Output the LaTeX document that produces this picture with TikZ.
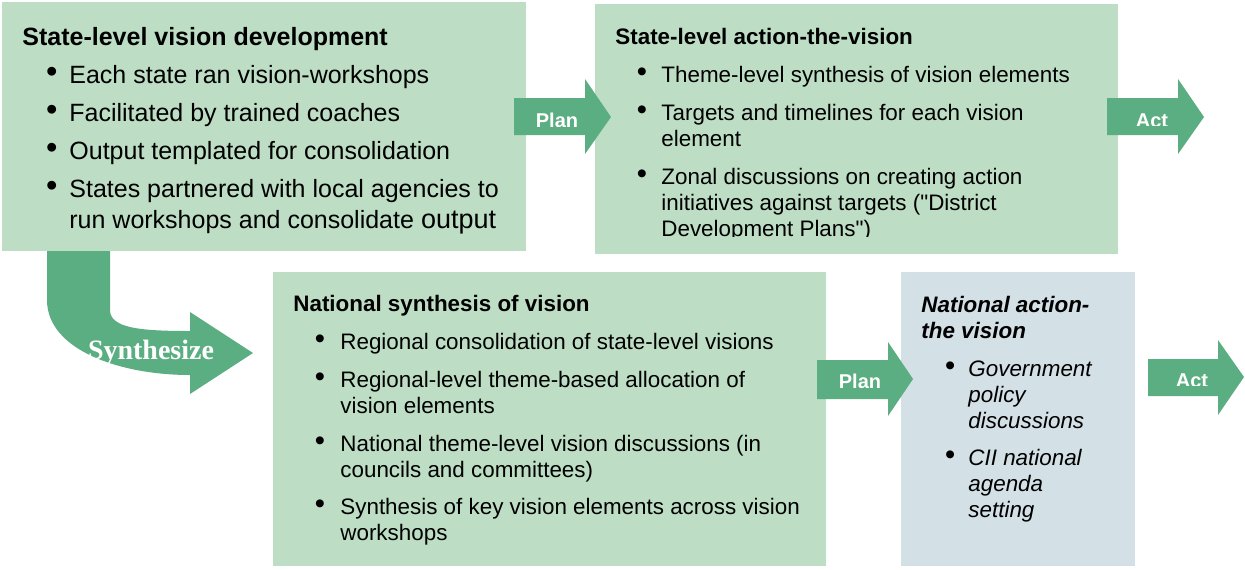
\documentclass[tikz,border=0pt]{standalone}
\usepackage{fontspec}
\setmainfont{Liberation Sans}
\newfontfamily\synfont{Liberation Serif}
\definecolor{boxgreen}{RGB}{189,222,197}
\definecolor{arrowgreen}{RGB}{91,174,130}
\definecolor{boxblue}{RGB}{211,224,230}
\newcommand{\bul}[1]{\llap{\raisebox{0.04em}{\scalebox{1.3}{\textbullet}}\hspace{#1}}}

\begin{document}
\begin{tikzpicture}[x=0.5pt, y=-0.5pt,
        greenbox/.style={fill=boxgreen, anchor=north west, inner sep=0},
        bluebox/.style={fill=boxblue, anchor=north west, inner sep=0},
        blockarrow/.style={fill=arrowgreen},
        arrowlabel/.style={text=white, anchor=base, inner sep=0, font=\fontsize{10}{12}\selectfont\bfseries},
        bigtext/.style={anchor=base west, inner sep=0, align=left, font=\fontsize{12.5}{15.5}\selectfont},
        smalltext/.style={anchor=base west, inner sep=0, align=left, font=\fontsize{11.2}{13}\selectfont},
        ]
        \useasboundingbox (0,0) rectangle (1245,569);

        % synthesize arrow, under the first box
        \fill[blockarrow] (47,250) -- (47,300) .. controls (47,350) and (120,375) .. (190,375)
            -- (190,394) -- (253,353) -- (190,312) -- (190,331)
            .. controls (140,331) and (110,328) .. (110,310) -- (110,250) -- cycle;
        \node[text=white, anchor=base, inner sep=0, font=\fontsize{14}{16}\synfont\bfseries] (synth) at (151,359) {Synthesize};

        % boxes
        \node[greenbox, minimum width=262pt, minimum height=124.5pt] (statevision) at (2,2) {};
        \node[greenbox, minimum width=261.5pt, minimum height=125pt] (stateaction) at (595,4) {};
        \node[greenbox, minimum width=276.5pt, minimum height=147pt] (natsynth) at (273,272) {};
        \node[bluebox, minimum width=117pt, minimum height=147pt] (nataction) at (901,272) {};

        % block arrows
        \fill[blockarrow] (514,98) -- (585,98) -- (585,79) -- (611,117) -- (585,154) -- (585,135) -- (514,135) -- cycle;
        \fill[blockarrow] (1107,98) -- (1178,98) -- (1178,79) -- (1204,117) -- (1178,154) -- (1178,135) -- (1107,135) -- cycle;
        \fill[blockarrow] (817,360) -- (888,360) -- (888,342) -- (913,379) -- (888,416) -- (888,399) -- (817,399) -- cycle;
        \fill[blockarrow] (1148,359) -- (1218,359) -- (1218,340) -- (1244,377) -- (1218,415) -- (1218,396) -- (1148,396) -- cycle;
        \begin{scope}
            \clip (514,98) rectangle (585,126);
            \node[arrowlabel] (plan1) at (557,127) {Plan};
        \end{scope}
        \begin{scope}
            \clip (1107,98) rectangle (1178,125);
            \node[arrowlabel] (act1) at (1152,127) {Act};
        \end{scope}
        \begin{scope}
            \clip (817,360) rectangle (888,387);
            \node[arrowlabel] (plan2) at (860,388) {Plan};
        \end{scope}
        \begin{scope}
            \clip (1148,359) rectangle (1218,385);
            \node[arrowlabel] (act2) at (1192,387) {Act};
        \end{scope}

        % state-level vision development (multi-line nodes sit on their last line)
        \node[bigtext, font=\fontsize{12.5}{15.5}\selectfont\bfseries] (title1) at (22,45) {State-level vision development};
        \node[bigtext] (item11) at (69,83) {\bul{6pt}Each state ran vision-workshops};
        \node[bigtext] (item12) at (69,121) {\bul{6pt}Facilitated by trained coaches};
        \node[bigtext] (item13) at (69,159) {\bul{6pt}Output templated for consolidation};
        \node[bigtext] (item14) at (69,228) {\bul{6pt}States partnered with local agencies to\\run workshops and consolidate {\fontsize{13.5}{15.5}\selectfont output}};

        % state-level action-the-vision
        \node[smalltext, font=\fontsize{11.2}{13}\selectfont\bfseries] (title2) at (615,44) {State-level action-the-vision};
        \node[smalltext] (item21) at (661,82) {\bul{7.2pt}Theme-level synthesis of vision elements};
        \node[smalltext] (item22) at (661,146) {\bul{7.2pt}Targets and timelines for each vision\\element};
        \begin{scope}
            \clip (595,4) rectangle (1118,236);
            \node[smalltext] (item23) at (661,236) {\bul{7.2pt}Zonal discussions on creating action\\initiatives against targets (\textquotedbl District\\Development Plans\textquotedbl)};
        \end{scope}

        % national synthesis of vision
        \node[smalltext, font=\fontsize{11.2}{13}\selectfont\bfseries] (title3) at (293,311) {National synthesis of vision};
        \node[smalltext] (item31) at (340,349) {\bul{7.7pt}Regional consolidation of state-level visions};
        \node[smalltext] (item32) at (340,413) {\bul{7.7pt}Regional-level theme-based allocation of\\vision elements};
        \node[smalltext] (item33) at (340,477) {\bul{7.7pt}National theme-level vision discussions (in\\councils and committees)};
        \node[smalltext] (item34) at (340,540) {\bul{7.7pt}Synthesis of key vision elements across vision\\workshops};

        % national action-the vision
        \node[smalltext, font=\fontsize{11.2}{13}\selectfont\bfseries\itshape] (title4) at (921,338) {National action-\\the vision};
        \node[smalltext, font=\fontsize{11.2}{13}\selectfont\itshape] (item41) at (968,428) {\bul{6.7pt}Government\\policy\\discussions};
        \node[smalltext, font=\fontsize{11.2}{13}\selectfont\itshape] (item42) at (968,517) {\bul{6.7pt}CII national\\agenda\\setting};
\end{tikzpicture}
\end{document}
